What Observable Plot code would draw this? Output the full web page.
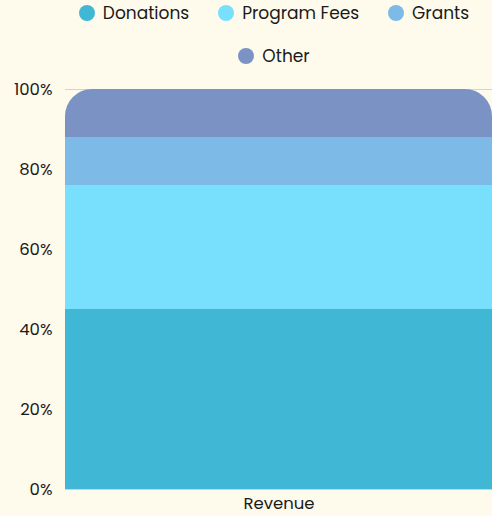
<!DOCTYPE html>
<html>
<head>
<meta charset="utf-8">
<script src="https://cdn.jsdelivr.net/npm/d3@7"></script>
<script src="https://cdn.jsdelivr.net/npm/@observablehq/plot@0.6"></script>
<style>
  html, body { margin: 0; padding: 0; background: #fefbed; }
  body { width: 492px; height: 516px; overflow: hidden; font-family: "Poppins", Inter, "Noto Sans", sans-serif; }
  #legend { box-sizing: border-box; height: 78px; margin-left: 56px; width: 436px; padding-top: 2px;
    display: flex; flex-wrap: wrap; justify-content: center; align-content: flex-start; column-gap: 29px; row-gap: 21px; }
  .item { display: flex; align-items: center; height: 22px; font-size: 17px; color: #1a1a1a; }
  .sw { width: 16px; height: 16px; border-radius: 50%; margin-right: 8px; }
</style>
</head>
<body>
<div id="legend"></div>
<div id="chart"></div>
<script>
const categories = ["Revenue"];
const series = ["Donations", "Program Fees", "Grants", "Other"];
const values = [45, 31, 12, 12];
const colors = ["#41b7d6", "#78dffd", "#7ebae8", "#7b93c4"];
const yTicks = [0, 20, 40, 60, 80, 100];

const data = series.map((s, i) => ({ category: categories[0], series: s, value: values[i] }));

const legend = document.getElementById("legend");
series.forEach((s, i) => {
  const it = document.createElement("div");
  it.className = "item";
  it.innerHTML = `<span class="sw" style="background:${colors[i]}"></span><span>${s}</span>`;
  legend.appendChild(it);
});

const chart = Plot.plot({
  width: 492,
  height: 438,
  marginTop: 11,
  marginBottom: 27,
  marginLeft: 65,
  marginRight: 0,
  style: { background: "transparent", fontFamily: "Poppins, Inter, 'Noto Sans', sans-serif", fontSize: "16.5px", color: "#1a1a1a" },
  x: { domain: categories, padding: 0, label: null, tickSize: 0, tickPadding: 8 },
  y: { domain: [0, 100], ticks: yTicks, tickFormat: d => d + "%", label: null, tickSize: 0, tickPadding: 13 },
  color: { domain: series, range: colors },
  marks: [
    Plot.gridY(yTicks, { stroke: "#d6d2c4", strokeOpacity: 1 }),
    Plot.barY(data, { x: "category", y: "value", fill: "series", z: "series", inset: 0, className: "stackbar" })
  ]
});
document.getElementById("chart").appendChild(chart);

// Round the top corners of the stacked bar using the chart's own scales
const xs = chart.scale("x"), ys = chart.scale("y");
const x0 = xs.apply(categories[0]), bw = xs.bandwidth;
const yTop = ys.apply(100), yBot = ys.apply(0);
const r = 27;
const svg = d3.select(chart.tagName.toLowerCase() === "svg" ? chart : chart.querySelector("svg"));
const defs = svg.insert("defs", ":first-child");
const cp = defs.append("clipPath").attr("id", "roundTop");
cp.append("path").attr("d",
  `M${x0},${yBot} L${x0},${yTop + r} A${r},${r} 0 0 1 ${x0 + r},${yTop} L${x0 + bw - r},${yTop} A${r},${r} 0 0 1 ${x0 + bw},${yTop + r} L${x0 + bw},${yBot} Z`);
svg.selectAll("g.stackbar, .stackbar").attr("clip-path", "url(#roundTop)");
</script>
</body>
</html>
